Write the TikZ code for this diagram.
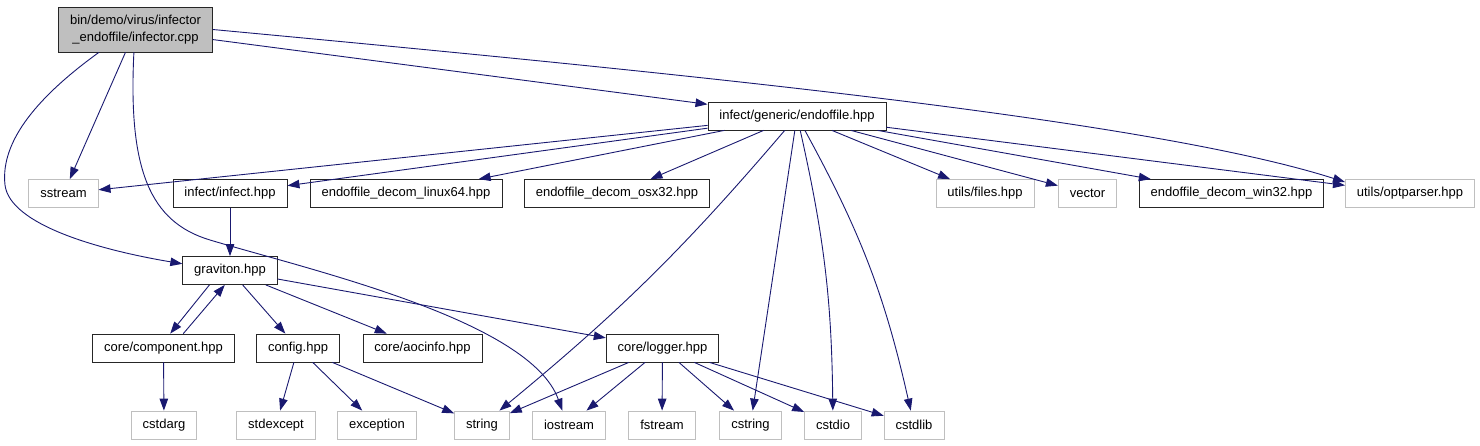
\documentclass[tikz,border=0pt]{standalone}
\usepackage{fontspec}
\setmainfont{Liberation Sans}
\usetikzlibrary{arrows.meta}
\definecolor{edgeblue}{RGB}{25,25,112}
\definecolor{extgray}{RGB}{191,191,191}

\begin{document}
\begin{tikzpicture}[x=1pt, y=-1pt,
  every node/.style={font=\fontsize{13}{16.5}\selectfont, inner xsep=11.5pt, inner ysep=0pt, minimum height=28pt},
  hdr/.style={draw=black!85, line width=0.8pt, fill=white},
  ext/.style={draw=extgray, line width=0.8pt, fill=white},
  rootfile/.style={draw=black!85, line width=0.8pt, fill=extgray, align=center, minimum height=45pt},
  dep/.style={draw=edgeblue, line width=0.9pt, -{Triangle[length=12pt,width=8.5pt]}}]
  \useasboundingbox (0,0) rectangle (1480,445);

  % 第一、二层
  \node[rootfile] (inf) at (135.5,29.5) {bin/demo/virus/infector\\\_endoffile/infector.cpp};
  \node[hdr] (eof) at (797,116) {infect/generic/endoffile.hpp};

  \node[ext] (sst) at (63.5,193.5) {sstream};
  \node[hdr] (infh) at (230,193.5) {infect/infect.hpp};
  \node[hdr] (lin) at (406,193.5) {endoffile\_decom\_linux64.hpp};
  \node[hdr] (osx) at (617,193.5) {endoffile\_decom\_osx32.hpp};
  \node[ext] (files) at (985,193.5) {utils/files.hpp};
  \node[ext] (vec) at (1087.5,193.5) {vector};
  \node[hdr] (win) at (1231.5,193.5) {endoffile\_decom\_win32.hpp};
  \node[ext] (opt) at (1410,193.5) {utils/optparser.hpp};

  \node[hdr] (grav) at (230,270.5) {graviton.hpp};

  \node[hdr] (comp) at (163.5,348) {core/component.hpp};
  \node[hdr] (conf) at (298,348) {config.hpp};
  \node[hdr] (aoc) at (422.5,348) {core/aocinfo.hpp};
  \node[hdr] (log) at (662.5,348) {core/logger.hpp};

  % 标准库
  \node[ext] (cstdarg) at (164,425) {cstdarg};
  \node[ext] (stdexc) at (276,425) {stdexcept};
  \node[ext] (exc) at (377,425) {exception};
  \node[ext] (str) at (482,425) {string};
  \node[ext] (ios) at (569,425) {iostream};
  \node[ext] (fst) at (662,425) {fstream};
  \node[ext] (cstr) at (750.5,425) {cstring};
  \node[ext] (cstdio) at (833,425) {cstdio};
  \node[ext] (cstdlib) at (914,425) {cstdlib};

  \draw[dep] (inf) -- (sst);
  \draw[dep] (inf) -- (eof);
  \draw[dep] (inf.east) .. controls (700,75) and (1150,120) .. (opt.170);
  \draw[dep] (inf.-148) .. controls (40,95) and (0,140) .. (5,185)
    .. controls (10,225) and (100,250) .. (grav.172);
  \draw[dep] (inf.-94) .. controls (128,170) and (150,222) .. (210,240)
    .. controls (310,270) and (530,320) .. (ios.115);

  \draw[dep] (eof) -- (sst);
  \draw[dep] (eof) -- (infh);
  \draw[dep] (eof) -- (lin);
  \draw[dep] (eof) -- (osx);
  \draw[dep] (eof) -- (files);
  \draw[dep] (eof) -- (vec);
  \draw[dep] (eof) -- (win);
  \draw[dep] (eof) -- (opt);
  \draw[dep] (eof) to[bend left=5] (str);
  \draw[dep] (eof) -- (cstr);
  \draw[dep] (eof) to[bend left=6] (cstdio);
  \draw[dep] (eof) to[bend left=8] (cstdlib);

  \draw[dep] (infh) -- (grav);
  \draw[dep] (grav.-145) -- (comp.65);
  \draw[dep] (comp.36) -- (grav.-110);
  \draw[dep] (grav) -- (conf);
  \draw[dep] (grav) -- (aoc);
  \draw[dep] (grav) -- (log);

  \draw[dep] (comp) -- (cstdarg);
  \draw[dep] (conf) -- (stdexc);
  \draw[dep] (conf) -- (exc);
  \draw[dep] (conf) -- (str);

  \draw[dep] (log) -- (str);
  \draw[dep] (log) -- (ios);
  \draw[dep] (log) -- (fst);
  \draw[dep] (log) -- (cstr);
  \draw[dep] (log) -- (cstdio);
  \draw[dep] (log) -- (cstdlib);
\end{tikzpicture}
\end{document}
